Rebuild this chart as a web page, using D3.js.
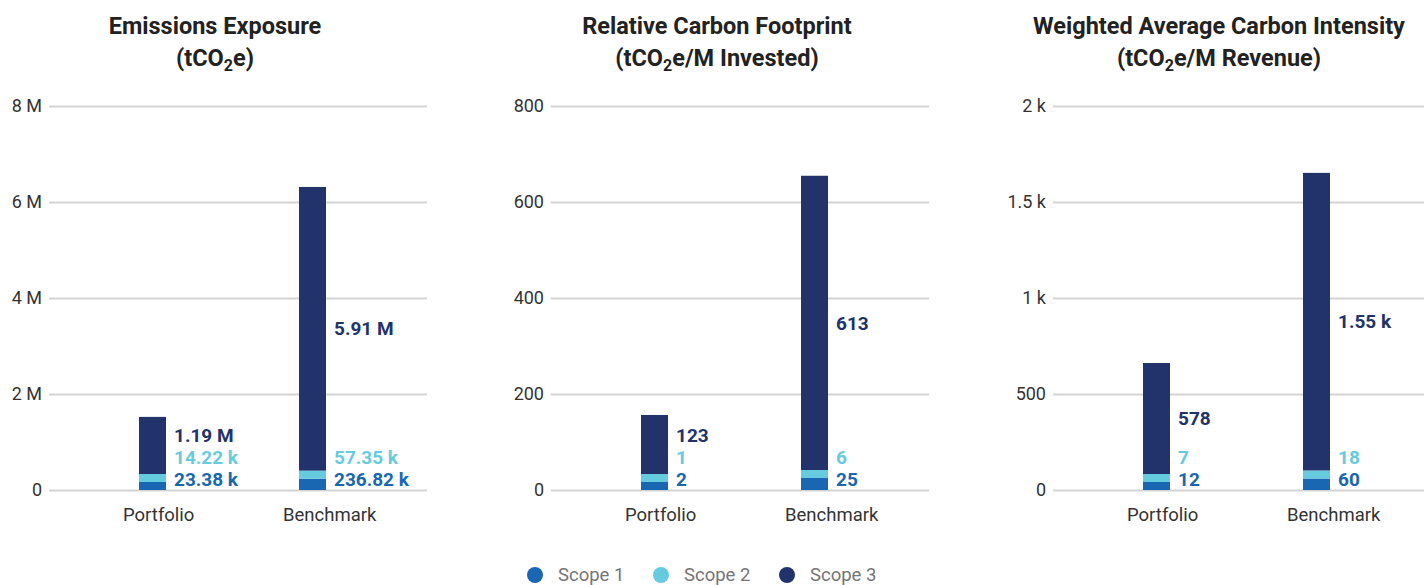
<!DOCTYPE html>
<html><head><meta charset="utf-8">
<script src="https://cdn.jsdelivr.net/npm/d3@7"></script>
<style>
body{margin:0;background:#fff;font-family:Roboto,"Noto Sans",sans-serif;}
</style></head>
<body><svg id="chart" width="1424" height="585"></svg>
<script>
const categories = ["Portfolio", "Benchmark"];
const seriesNames = ["Scope 1", "Scope 2", "Scope 3"];
const seriesColors = ["#1967b3", "#66cbdf", "#22336b"];
const panelTitles = ["Emissions Exposure", "Relative Carbon Footprint", "Weighted Average Carbon Intensity"];
const panelUnitsPre = ["(tCO", "(tCO", "(tCO"];
const panelUnitsPost = ["e)", "e/M Invested)", "e/M Revenue)"];
const panelMax = [8000000, 800, 2000];
const panelTicks = [[0, 2000000, 4000000, 6000000, 8000000], [0, 200, 400, 600, 800], [0, 500, 1000, 1500, 2000]];
// values per panel: [series][category]
const emissionsScope1 = [23380, 236820];
const emissionsScope2 = [14220, 57350];
const emissionsScope3 = [1190000, 5910000];
const footprintScope1 = [2, 25];
const footprintScope2 = [1, 6];
const footprintScope3 = [123, 613];
const intensityScope1 = [12, 60];
const intensityScope2 = [7, 18];
const intensityScope3 = [578, 1550];

const panelData = [
  [emissionsScope1, emissionsScope2, emissionsScope3],
  [footprintScope1, footprintScope2, footprintScope3],
  [intensityScope1, intensityScope2, intensityScope3]
];

const svg = d3.select("#chart");
const panelLeft = [49, 551, 1053];
const plotW = 378, yTop = 106, yBottom = 490, minSeg = 8;

function fmtTick(v){
  if (v >= 1e6) return (v/1e6) + " M";
  if (v >= 1e3) return (v/1e3) + " k";
  return String(v);
}
function fmtLabel(v){
  if (v >= 1e6) return (v/1e6).toFixed(2) + " M";
  if (v >= 1e3) return (v/1e3).toFixed(2) + " k";
  return String(Math.round(v));
}

panelData.forEach((data, p) => {
  const g = svg.append("g").attr("transform", `translate(${panelLeft[p]},0)`);
  const y = d3.scaleLinear().domain([0, panelMax[p]]).range([yBottom, yTop]);
  const x = d3.scaleBand().domain(categories).range([23.5, 343.5]);
  const barW = 27;

  // title
  const t = g.append("text").attr("x", 166).attr("y", 34).attr("text-anchor", "middle")
    .attr("font-size", 23.5).attr("font-weight", 700).attr("fill", "#222").text(panelTitles[p]);
  const t2 = g.append("text").attr("x", 166).attr("y", 66).attr("text-anchor", "middle")
    .attr("font-size", 23.5).attr("font-weight", 700).attr("fill", "#222");
  t2.append("tspan").text(panelUnitsPre[p]);
  t2.append("tspan").attr("font-size", 16).attr("dy", 5).text("2");
  t2.append("tspan").attr("dy", -5).text(panelUnitsPost[p]);

  // grid + y axis
  const yAxis = d3.axisLeft(y).tickValues(panelTicks[p]).tickFormat(fmtTick).tickSize(-plotW).tickPadding(7);
  const ag = g.append("g").call(yAxis);
  ag.select(".domain").remove();
  ag.selectAll(".tick line").attr("stroke", "#d3d3d3").attr("stroke-width", 2);
  ag.selectAll(".tick text").attr("font-size", 18).attr("fill", "#333").attr("font-family", "Roboto");

  // category labels
  categories.forEach(c => {
    g.append("text").attr("x", x(c) + x.bandwidth()/2 - 29.5).attr("y", 521)
      .attr("font-size", 18.5).attr("fill", "#333").text(c);
  });

  // bars
  categories.forEach((c, ci) => {
    const cx = x(c) + x.bandwidth()/2;
    let base = y(0);
    let prevLabel = null;
    data.forEach((vals, si) => {
      const v = vals[ci];
      const h = Math.max(minSeg, y(0) - y(v));
      const top = base - h;
      g.append("rect").attr("x", cx - barW/2).attr("y", top).attr("width", barW).attr("height", h)
        .attr("fill", seriesColors[si]);
      const mid = (top + base) / 2;
      let ly = si === 0 ? Math.min(mid, y(0) - 11) : Math.min(mid, prevLabel - 22);
      prevLabel = ly;
      g.append("text").attr("x", cx + barW/2 + 8).attr("y", ly).attr("dy", "0.35em")
        .attr("font-size", 19).attr("font-weight", 700).attr("fill", seriesColors[si])
        .text(fmtLabel(v));
      base = top;
    });
  });
});

// legend
const legendX = [535, 661, 787];
seriesNames.forEach((s, i) => {
  svg.append("circle").attr("cx", legendX[i]).attr("cy", 575).attr("r", 8).attr("fill", seriesColors[i]);
  svg.append("text").attr("x", legendX[i] + 23).attr("y", 575).attr("dy", "0.35em")
    .attr("font-size", 18.5).attr("fill", "#757575").text(s);
});
</script></body></html>
